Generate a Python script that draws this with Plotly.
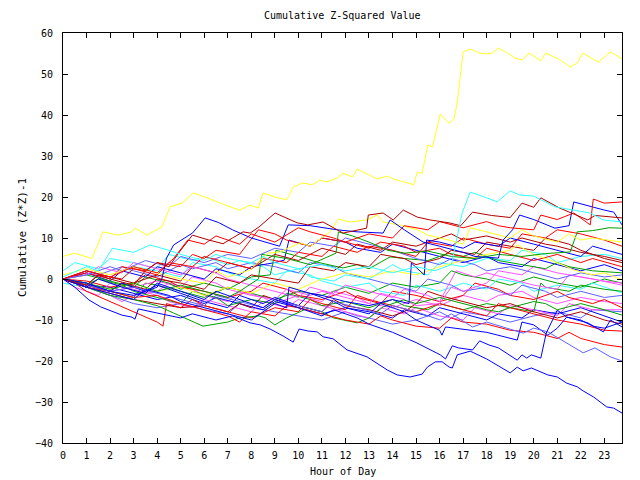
import plotly.graph_objects as go

# ---- data: (hour, cumulative value) corner points ----
yel1 = [(0,5.5),(0.5,6.3),(1.23,5),(1.7,11.5),(2.34,10.7),(2.93,11.5),(3.06,12.4),(3.57,10.7),(4.2,12.7),(4.55,17.6),(5.06,18.5),(5.53,21),(6.12,19.8),(6.68,18.5),(7.5,16.8),(7.95,18),(8.3,17.3),(8.5,21),(9,20),(9.5,19.3),(9.78,22.4),(10.16,23.4),(10.6,23),(10.9,24.1),(11.2,23.7),(11.65,24.6),(11.9,25.8),(12.3,24.9),(12.5,26.8),(12.84,25.8),(13.35,24.4),(13.78,25.1),(14.03,24.4),(14.9,23),(15.05,26),(15.26,25.8),(15.5,32.7),(15.7,32.2),(16.03,40.2),(16.4,38),(16.6,39),(16.75,42.9),(17,55.4),(17.3,56.1),(17.7,55.1),(17.95,54.9),(18.24,55.1),(18.5,56.3),(18.8,55.4),(19.2,53.9),(19.5,53.4),(19.8,55.1),(20.3,53.2),(20.5,55.1),(21.05,53.7),(21.55,51.7),(21.85,52.7),(22.07,55.1),(22.75,52.9),(23.26,55.4),(23.75,53.7)]
yel2 = [(0,1),(1,2.5),(2,1),(3,3),(4,1.5),(5,0),(6,-1),(6.5,2),(7,0.5),(7.95,2.2),(8.7,6.3),(9.2,6.6),(10.08,8.8),(10.5,8),(11.35,11.5),(11.7,14.6),(12.2,13.9),(12.9,14.4),(13.35,15.6),(13.6,13.9),(14.3,13.2),(15.05,12),(15.5,10.7),(16.4,9.5),(17,8.5),(17.3,12.5),(18,11.5),(19,10),(19.5,12),(20,10.5),(21,9),(21.5,11),(22,9.5),(22.5,10),(23.75,9)]
yel3 = [(0,0),(1,-1),(2,-2.5),(3,-1),(4,-3),(5,-2),(6,-4),(7,-2),(8,-3.5),(9,-1),(10,-2.5),(11,0),(12,1.5),(13,0.5),(14,2),(15,1),(16,3),(17,4.5),(18,6),(19,7),(19.3,8.3),(20,6),(21,4),(21.7,2.2),(22.5,1),(23,1.5),(23.75,-0.2)]
cyan1 = [(0,0.5),(1,3),(1.5,2),(2.1,7.5),(3,6.5),(3.7,8.3),(4.5,7),(5,6),(6,4.5),(6.5,6),(7,5),(8,4),(8.5,5.5),(9,4),(10,2.5),(11,3.5),(12,2),(13,3),(14,1.5),(15,3),(15.8,2),(16.5,3.5),(16.96,16.1),(17.3,21.2),(18,19.8),(18.45,18.8),(19,21.5),(19.4,20.5),(20,20.2),(20.9,17.6),(21.7,16.8),(22.4,16.1),(22.96,14.4),(23.75,13.9)]
cyan2 = [(0,-1),(1,-2),(1.5,1),(2.5,0),(3,3),(4,2),(5,0.5),(5.5,4),(6.5,3),(7,1.5),(8,0),(9,-1),(9.5,2),(10.5,1),(11,-0.5),(12,-2),(13,-1),(13.5,-3),(14.5,-4),(15,-1.5),(16,-3),(17,-1),(18,-2.5),(18.5,0),(19.5,-1),(20,-3),(21,-1.5),(22,-2.5),(22.5,-1),(23.75,-3.4)]
cyan3 = [(0,2),(0.5,4),(1.5,2.5),(2,5),(3,4),(4,2.5),(4.5,6),(5.5,4.5),(6,5.5),(7,3.5),(7.5,4.5),(8.5,3),(9,1),(10,2.5),(10.5,0.5),(11.5,-0.5),(12,1),(13,0),(14,3.5),(14.5,2),(15.5,1),(16,4),(17,3),(18,5),(19,4.5),(19.5,7),(20.5,6),(21,4),(22,5.5),(23,6),(23.75,5)]
dred1 = [(0,0),(1,-1.5),(1.5,1),(2,0),(3,-1.5),(3.5,2),(4,4),(4.5,3),(5,7),(5.5,10.7),(6.2,9.5),(6.8,8.6),(7.2,10),(7.65,11.5),(7.95,11.2),(8.33,12.7),(9.01,16.1),(9.95,13.7),(10.4,13.2),(11.05,13.9),(11.9,11.2),(12.9,12.4),(12.97,15.6),(13.6,16.1),(14.03,14.4),(14.46,16.8),(15.05,15.1),(15.6,14.4),(16.4,13.7),(16.9,13),(17.4,16.3),(18.2,15.5),(19,15),(19.5,18.5),(20,17.5),(20.3,19.8),(21.1,17.3),(22.3,14.4),(22.6,15.5),(23.75,14.9)]
dred2 = [(0,0),(1,-1.5),(2,-3),(2.5,-1),(3.5,-2.5),(4,0),(5,-1),(6,-2.5),(6.5,0.5),(7.5,-1),(8,1),(9,0),(10,-1),(10.5,3),(11.5,2),(12,4),(13,3),(13.5,6),(14.5,5),(15,3.5),(16,5),(16.5,7),(17.5,6),(18,9),(19,8),(20,7),(20.5,10),(21.5,8.5),(22,7),(23,5),(23.75,4)]
dred3 = [(0,0),(1,-2),(2,-3.5),(3,-5),(4,-6),(5,-7),(6,-6.5),(7,-8),(7.5,-6),(8,-7),(8.5,-4),(9,-5),(10,-6.5),(11,-8),(11.5,-5),(12,-6.5),(13,-7.5),(14,-9),(14.5,-8),(15,-6),(15.5,-3),(16,-4),(17,-5.5),(18,-7),(19,-6),(20,-8),(21,-9.5),(22,-8),(23,-10),(23.75,-11)]
dred4 = [(0,0),(1,2),(2,0.5),(3,-1),(4,1),(5,-0.5),(5.5,3),(6.5,1.5),(7,4),(8,2.5),(9,6),(10,4.5),(11,7.5),(12,6),(12.5,8.5),(13.5,7),(14,9),(15,8),(16,10),(16.5,11),(17,9.5),(18,10.5),(19,9),(19.5,10),(20.5,8.5),(21,8),(22,6.5),(23,5.5),(23.75,4.5)]
red1 = [(0,0),(1,2),(2,0.5),(3,3),(4,1.5),(4.7,5),(5.3,9.5),(6,8.5),(6.5,10.5),(7,9.5),(7.5,8.5),(8,11),(9,9),(10,12.5),(10.5,11.5),(11.5,10),(12,9),(13,11),(14,10),(14.5,13),(15.5,12),(16,14),(17,12.5),(18,14),(18.5,13),(19,12.5),(20,12),(20.3,15.6),(21,14.5),(21.7,16.1),(22.4,13.2),(22.53,19.5),(23,18.5),(23.75,18.8)]
red2 = [(0,0),(1,-1.5),(1.5,1),(2.5,0),(3,2.5),(4,1),(4.5,4),(5.5,3),(6,5.5),(7,4),(8,2.5),(8.5,5),(9.5,4),(10,6.5),(11,5.5),(11.5,8),(12.5,6.5),(13,8),(14,7),(15,5.5),(15.5,9),(16.5,8),(17,10),(18,8.5),(19,7.5),(19.5,11),(20.5,10),(21,12),(22,11),(23,9.5),(23.75,8)]
red3 = [(0,0),(1,-2),(2,-3),(3,-4.5),(4,-4),(5,-6),(6,-7.5),(7,-9),(7.5,-10.5),(8,-8),(9,-9),(9.5,-6.5),(10,-7),(11,-8.5),(12,-10),(13,-11),(13.5,-9),(14,-10),(15,-11.5),(16,-12),(16.5,-9.5),(17,-10.5),(18,-11),(19,-12.5),(20,-13),(21,-14.5),(21.5,-13),(22,-14.5),(23,-16),(23.75,-16.6)]
red4 = [(0,0),(0.5,-1),(1,-3),(2,-5.5),(3,-8),(4,-10.5),(4.25,-11.5),(4.4,-6),(5,-7),(5.5,-5),(6,-6.5),(7,-8),(8,-9.5),(9,-7),(10,-8),(10.5,-5),(11,-6),(12,-7.5),(12.5,-4),(13,-5),(14,-6.5),(15,-8),(16,-6),(17,-7.5),(18,-9),(18.5,-6),(19,-7),(20,-8.5),(21,-10),(22,-11),(23,-12.5),(23.75,-12.7)]
red5 = [(0,0),(1,1.5),(2,0),(2.5,3),(3.5,2),(4,4),(5,3),(5.5,6),(6,5),(6.5,7),(7.5,6),(8.3,12),(9,11),(9.5,9.5),(10.5,8),(11,10),(12,9),(13,7.5),(13.5,9),(14.5,8),(15,6.5),(16,7.5),(16.5,6),(17.5,5),(18,7.5),(19,6),(20,4.5),(21,6),(22,4),(22.5,5),(23.75,3)]
red6 = [(0,0),(1,-0.5),(2,-2),(3,-1),(3.5,1),(4.5,-0.5),(5,-2),(6,-3),(7,-4.5),(8,-3),(8.5,-1),(9.5,-2.5),(10,-4),(11,-5),(12,-3),(12.5,-4.5),(13.5,-6),(14,-3),(15,-4),(16,-5.5),(17,-4),(17.5,-1),(18.5,-2.5),(19,-4),(20,-5),(21,-3),(21.5,-4.5),(22.5,-6),(23,-5),(23.75,-7)]
green1 = [(0,0),(1,-1),(2,-2.5),(3,-1),(4,-3),(5,-1.5),(6,-3),(7,-4.5),(7.5,-3),(8.3,0),(8.45,6),(9.5,5),(10.5,3.5),(11.6,6.3),(11.7,11.5),(12.3,10.5),(13,9),(13.8,7),(14.5,6.3),(15.5,6.8),(16.5,5.5),(17.5,5),(18.5,6),(19.5,5.5),(20.5,6.2),(21.55,6.6),(21.85,11.5),(22.5,11.8),(23.2,12.5),(23.75,12.4)]
green2 = [(0,0),(1,-2),(2,-4),(3,-5),(4,-6.5),(4.7,-8.3),(5.95,-11.5),(7,-10.5),(7.5,-9.5),(8.33,-9),(8.6,-9.5),(9,-11.2),(9.5,-9.5),(10.4,-7.1),(11,-8),(11.5,-9.5),(12.5,-10.7),(13,-9.5),(13.6,-6.8),(14.46,-5.1),(15,-6),(16,-4.5),(17,-6),(18,-7.5),(18.5,-8),(19,-7),(20,-5.5),(20.5,-6),(21,-7.5),(22,-6),(23,-7.5),(23.75,-8.8)]
green3 = [(0,0),(1,1),(2,-0.5),(3,-2),(3.5,0.5),(4.5,-1),(5,-2.5),(6,-1),(7,-2.5),(7.5,-1),(8,0.5),(8.8,1),(9.05,7),(10,5.5),(10.8,4.1),(11.9,2.7),(12.5,3.5),(13,2.5),(13.9,5.4),(14.5,5),(15.5,4.5),(16.4,6.3),(17,5.5),(17.5,6.5),(18.5,4.5),(19.5,3.5),(20.5,2.5),(21,4),(21.5,3),(22.5,2),(23.75,1.5)]
green4 = [(0,0),(1,-1.5),(1.5,0),(2.5,-1.5),(3,-3),(4,-4.5),(5,-6),(5.5,-3),(6.5,-4.5),(7,-6.5),(8,-5),(9,-6),(9.5,-3.5),(10.5,-5),(11,-6.5),(12,-5.5),(13,-7),(14,-5),(14.5,-6.5),(15.5,-7.5),(16,-6),(17,-7.5),(18,-6),(19,-7),(20,-8),(20.3,-1),(20.5,-2),(21.5,-3),(22,-1.5),(23,-2.5),(23.75,-3)]
green5 = [(0,0),(2,-3),(3,-4.5),(3.5,-1),(4,-1.5),(5,-3),(6,-4.5),(7,-2),(8,-3.5),(9,-5),(10,-3),(11,-4),(12,-2),(13,-3.5),(14,-1),(15,-2),(16,-1),(16.5,2),(17,1),(18,0),(19,-1.5),(20,0.5),(21,-1),(22,-2),(23,0),(23.75,-1)]
blue1 = [(0,0),(0.5,-2),(1.1,-5.1),(1.6,-6.8),(2.5,-8.8),(2.93,-9.3),(3.06,-9.8),(3.2,-7.3),(4,-8.3),(5,-9.5),(5.5,-8.5),(6.5,-10),(7.2,-9),(7.95,-10.7),(8.38,-11.2),(8.8,-12.2),(9.35,-13.9),(9.78,-15.4),(10.03,-12.2),(10.42,-12.7),(10.8,-12.9),(11.05,-14.1),(11.48,-14.6),(12.07,-17.3),(12.92,-19),(13.35,-20.5),(13.78,-22.2),(14.2,-23.4),(14.75,-23.9),(15.26,-23.2),(15.48,-21.5),(15.82,-20.2),(16.11,-20.2),(16.41,-21.5),(16.54,-21.7),(16.75,-18.5),(17.3,-17.6),(18,-19.5),(18.6,-21.5),(19,-22.9),(19.3,-21.5),(19.55,-22.4),(19.9,-21.7),(20.6,-23.4),(21,-23.9),(21.4,-25.4),(21.85,-26.3),(22.1,-27.3),(22.55,-28.8),(22.83,-30),(23.1,-31.2),(23.4,-31.5),(23.75,-32.7)]
blue2 = [(0,0),(1,-2),(1.5,0),(2.5,-2),(3.5,-3.5),(4,-1),(5,-3),(6,-5),(6.5,-3),(7.5,-5),(8.5,-7),(9,-5),(10,-7),(11,-9),(11.5,-7.5),(12.5,-9.5),(13,-11),(14,-13),(15,-15.5),(15.5,-17),(16.03,-18.5),(16.25,-19.5),(16.54,-16.3),(16.8,-16.8),(17.4,-17.3),(17.7,-15.1),(18.1,-16.1),(18.5,-16.8),(19.3,-19.8),(19.5,-18.5),(19.7,-19.3),(19.9,-18.5),(20.3,-19.3),(20.53,-13.2),(21,-7.6),(21.4,-9.3),(22.3,-10.7),(22.96,-12.9),(23.26,-10),(23.75,-11.7)]
blue3 = [(0,0),(1,-1),(2,-3),(3,-4),(4,-2),(4.2,0),(4.4,5.1),(4.7,8.3),(5.5,11.2),(6.04,14.9),(6.6,13.8),(7.2,12),(8,10),(8.6,9),(9.2,8),(9.57,13.2),(10.5,13),(11.65,12),(12.5,11.5),(13.6,11.2),(13.9,14.4),(14.5,12),(15.3,9),(16,8),(17,6.5),(17.5,5.5),(18.5,5.1),(18.7,9.5),(19.1,12),(19.4,15.6),(20,14.5),(20.9,12.4),(21.5,13),(21.7,18.8),(22.5,17.5),(23,16.8),(23.4,16.3),(23.75,13.2)]
blue4 = [(0,0),(1,-1),(2,-3),(2.5,-1),(3.5,-3),(4,-1.5),(5,-3.5),(6,-5.5),(7,-7),(7.5,-4),(8.5,-6),(9,-4.5),(10,-6.5),(10.5,-3.5),(11.5,-5.5),(12,-7),(13,-8.5),(13.5,-6),(14.5,-8),(15,-10),(16,-12.5),(16.1,-13.7),(16.25,-11.7),(17,-12.3),(18,-13),(19.3,-14.9),(19.5,-10.5),(20,-11.2),(20.6,-13.7),(21,-12),(21.4,-9.3),(22,-10),(22.5,-11.5),(23,-12),(23.75,-10.5)]
blue5 = [(0,0),(1,-2),(2,-3.5),(3,-5),(3.5,-2.5),(4.5,-4),(5,-5.5),(6,-7),(7,-8.5),(8,-10),(8.5,-8),(9,-6),(9.5,-7),(9.6,-2),(10.5,-3.5),(11,-4),(12,-5.5),(13,-6.5),(14,-5),(14.7,-6),(14.8,3.9),(15.35,1),(15.45,9.5),(16,9),(17,7.5),(17.5,9),(18.5,8),(19,10),(20,8.5),(21,7),(22,5.5),(22.5,8),(23.5,6.5),(23.75,6)]
blue6 = [(0,0),(1,1.5),(2,-0.5),(2.5,2),(3.5,0.5),(4,3),(5,1.5),(6,0),(6.5,2.5),(7.5,1),(8,3),(9,4),(9.4,4.6),(9.6,9.5),(10.5,8),(11,10),(12,9),(12.5,7.5),(13.5,6.5),(14,8.5),(15,7),(16,5.5),(17,4),(18,5.5),(18.5,4),(19.5,3),(20,5),(21,3.5),(22,2),(23,3.5),(23.75,2)]
blue7 = [(0,0),(1,-1.5),(2,-2),(3,-3.5),(4,-5),(5,-4),(6,-6),(6.5,-4.5),(7.5,-6),(8.5,-7.5),(9,-5.5),(10,-7),(11,-8.5),(12,-7),(13,-8),(14,-9.5),(14.5,-7.5),(15.5,-9),(16,-7),(17,-8.5),(18,-10),(18.5,-8.5),(19.5,-9.5),(20,-7.5),(21,-8.5),(22,-7),(23,-9),(23.75,-10.5)]
slate1 = [(0,0),(1,-1.5),(2,-3),(3,-2),(4,-3.5),(5,-5),(6,-6.5),(6.5,-4),(7.5,-5.5),(8.5,-7),(9,-5),(10,-6.5),(11,-8),(11.5,-5.5),(12.5,-7),(13.5,-8.5),(14,-6.5),(15,-8),(16.03,-10),(16.5,-8.5),(17.4,-11.7),(18,-10.5),(19.55,-13.2),(20,-12),(20.6,-12.9),(21.4,-15.6),(22.1,-18),(22.6,-16.8),(23.26,-19),(23.75,-20)]
slate2 = [(0,0),(1,2),(1.5,1),(2.5,3),(3,2),(4,0.5),(5,3.5),(5.5,2.5),(6.5,4),(7,2.5),(8,4),(9,3),(10,1.5),(10.5,4),(11.5,3),(12,1.5),(13,0),(14,-1.5),(15,-3),(15.5,0),(16.5,-1.5),(17,-3),(18,-2),(19,-4),(19.5,-1.5),(20.5,-3),(21,-4.5),(22,-3),(23,-4.5),(23.75,-4)]
slate3 = [(0,0),(1,-2),(2,-4),(3,-6),(4,-7),(5,-6),(6,-7.5),(7,-8.5),(7.5,-6),(8,-7),(9,-8),(10,-9),(11,-10),(12,-8),(12.5,-9),(13,-9.5),(14,-11),(15,-10),(16,-8),(16.5,-9.5),(17,-8),(18,-9),(19,-10.5),(20,-9),(21,-8),(22,-9.5),(22.5,-7.5),(23.75,-8)]
slate4 = [(0,0),(1,1),(2,3),(2.5,2),(3.5,4.5),(4.5,3),(5,5.5),(6,4),(7,6),(8,5),(9,7.5),(10,6.5),(10.5,9),(11.5,8),(12,10),(13,8.5),(14,7),(15,5),(16,3.5),(16.5,5),(17.5,3.5),(18,2),(19,3),(20,1.5),(21,0),(22,1.5),(23,0.5),(23.75,1)]
mag1 = [(0,0),(1,-1.5),(2,-3),(3,-2),(4,-0.5),(5,-2),(5.5,0.5),(6.5,-1),(7,-2.5),(8,-4),(9,-5),(9.5,-2.5),(10.5,-4),(11,-3),(12,-4.5),(13,-6),(13.5,-3.5),(14.5,-5),(15,-6.5),(16,-6),(16.5,-2),(17,-3),(18,-1),(18.5,2),(19.5,1),(20,3),(21,1.5),(22,0.5),(23,-0.5),(23.75,-1)]
mag2 = [(0,0),(0.5,-2),(1.5,-4),(2,-1),(3,-2.5),(4,-4),(4.5,-5.5),(5.5,-7),(6,-5),(7,-6.5),(8,-8),(8.5,-5.5),(9.5,-7),(10,-5),(11,-6.5),(12,-8),(13,-9.5),(13.5,-7),(14.5,-8.5),(15,-7),(16,-9),(17,-10),(17.5,-7),(18.5,-8.5),(19,-6.5),(20,-7.5),(21,-9),(21.5,-6),(22.5,-7.5),(23.75,-7.5)]
mag3 = [(0,0),(1,1),(1.5,3),(2.5,1.5),(3,4),(4,2.5),(5,1),(5.5,3),(6.5,1.5),(7,0),(8,-1.5),(9,-3),(10,-4.5),(10.5,-2),(11.5,-3.5),(12,-1.5),(13,-3),(14,-4.5),(14.5,-2.5),(15.5,-4),(16,-5.5),(16.7,2),(17.5,0.5),(18,1.5),(19,0),(20,-1.5),(21,-2.5),(21.5,1),(22.5,0),(23.75,-1.5)]
mag4 = [(0,0),(1,-2),(2,-4),(2.5,-5.5),(3,-4),(4,-3),(4.5,-1),(5.5,-2.5),(6,-4),(7,-5.5),(7.5,-3),(8.5,-4.5),(9,-6),(10,-4),(11,-5.5),(11.5,-3),(12.5,-4.5),(13,-6),(14,-7),(15,-5),(16,-6.5),(17,-4),(18,-5.5),(18.5,-4),(19.5,-3),(20,-4.5),(21,-6),(22,-4.5),(23,-5.5),(23.75,-6)]

hour_ticks = list(range(0, 24))
hour_labels = [str(h) for h in hour_ticks]
value_ticks = [-40, -30, -20, -10, 0, 10, 20, 30, 40, 50, 60]

# ---- styles ----
YELLOW, CYAN, DRED, RED = "#ffff20", "#30ffff", "#b00000", "#ff0000"
GREEN, BLUE, SLATE, MAGENTA = "#00a000", "#0000ff", "#6060ff", "#ff50ff"

series = [
    (green5, GREEN), (mag4, MAGENTA), (slate3, SLATE), (blue7, BLUE), (red6, RED),
    (cyan2, CYAN), (mag2, MAGENTA), (green4, GREEN), (dred3, DRED), (red4, RED),
    (slate2, SLATE), (mag1, MAGENTA), (cyan3, CYAN), (blue6, BLUE), (green3, GREEN),
    (red5, RED), (dred4, DRED), (mag3, MAGENTA), (slate4, SLATE), (red2, RED),
    (dred2, DRED), (yel3, YELLOW), (green2, GREEN), (red3, RED), (blue4, BLUE),
    (slate1, SLATE), (blue5, BLUE), (green1, GREEN), (yel2, YELLOW), (blue2, BLUE),
    (blue3, BLUE), (red1, RED), (dred1, DRED), (cyan1, CYAN), (blue1, BLUE),
    (yel1, YELLOW),
]

fig = go.Figure()
for pts, col in series:
    fig.add_trace(go.Scatter(
        x=[p[0] for p in pts], y=[p[1] for p in pts], mode="lines",
        line=dict(color=col, width=1), hoverinfo="skip"))

FONT = "DejaVu Sans Mono"
fig.update_layout(
    width=640, height=480,
    margin=dict(l=63, r=18, t=33, b=37),
    plot_bgcolor="white", paper_bgcolor="white",
    showlegend=False,
    font=dict(family=FONT, size=10, color="black"),
)
fig.update_xaxes(
    range=[0, 23.75], tickmode="array", tickvals=hour_ticks, ticktext=hour_labels,
    ticks="inside", ticklen=5, tickwidth=1, tickcolor="black",
    showline=True, linecolor="black", linewidth=1, mirror="allticks",
    showgrid=False, zeroline=False, ticklabelstandoff=3,
    tickfont=dict(family=FONT, size=10),
)
fig.update_yaxes(
    range=[-40, 60], tickmode="array", tickvals=value_ticks,
    ticks="inside", ticklen=5, tickwidth=1, tickcolor="black",
    showline=True, linecolor="black", linewidth=1, mirror="allticks",
    showgrid=False, zeroline=False, ticklabelstandoff=7,
    tickfont=dict(family=FONT, size=10),
)
fig.add_annotation(text="Cumulative Z-Squared Value", xref="paper", yref="paper",
                   x=0.5, y=1, yshift=18, xanchor="center", yanchor="middle",
                   showarrow=False, font=dict(family=FONT, size=10))
fig.add_annotation(text="Hour of Day", xref="paper", yref="paper",
                   x=0.5, y=0, yshift=-28, xanchor="center", yanchor="middle",
                   showarrow=False, font=dict(family=FONT, size=10))
fig.add_annotation(text="Cumulative (Z*Z)-1", xref="paper", yref="paper",
                   x=0, y=0.5, xshift=-41, xanchor="center", yanchor="middle",
                   textangle=-90, showarrow=False, font=dict(family=FONT, size=11))

fig.write_html("out.html")
